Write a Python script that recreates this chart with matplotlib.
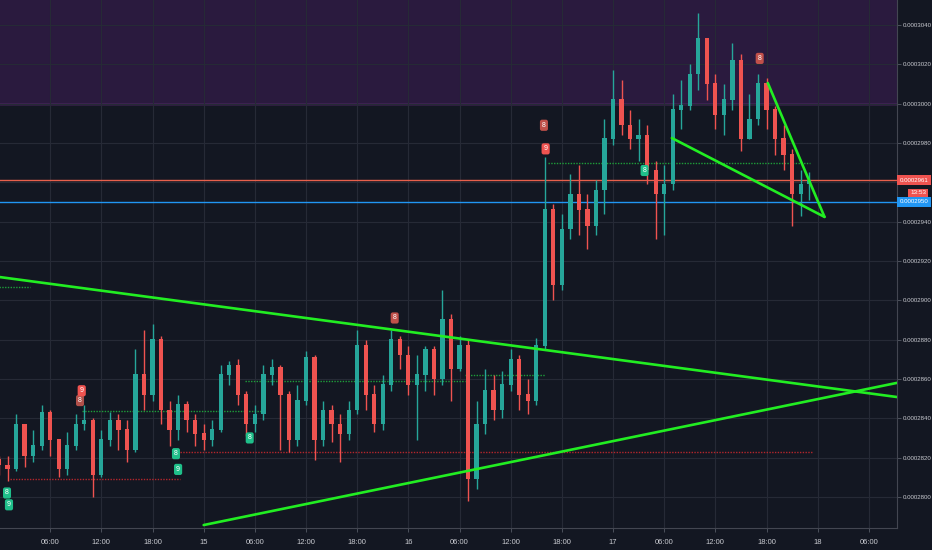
import matplotlib
matplotlib.use("Agg")
import matplotlib.pyplot as plt
import numpy as np

# prices in units of 1e-7, hourly candles starting 14th 00:00
first_open = 2819
close = [2816, 2814, 2837, 2821, 2826, 2843, 2829, 2814, 2826, 2837, 2839, 2811,
         2829, 2839, 2834, 2824, 2862, 2852, 2880, 2844, 2834, 2847, 2839, 2832,
         2829, 2834, 2862, 2867, 2852, 2837, 2842, 2862, 2866, 2852, 2829, 2849,
         2871, 2829, 2844, 2837, 2832, 2844, 2877, 2852, 2837, 2857, 2880, 2872,
         2857, 2862, 2875, 2860, 2890, 2865, 2877, 2809, 2837, 2854, 2844, 2857,
         2870, 2852, 2849, 2877, 2946, 2908, 2936, 2954, 2946, 2938, 2956, 2982,
         3002, 2989, 2982, 2984, 2966, 2954, 2959, 2997, 2999, 3015, 3033, 3010,
         2994, 3002, 3022, 2982, 2992, 3010, 2997, 2982, 2974, 2954, 2959, 2961]
high = [2821, 2821, 2842, 2832, 2834, 2847, 2844, 2829, 2833, 2842, 2847, 2840,
        2834, 2843, 2842, 2839, 2875, 2885, 2888, 2882, 2849, 2852, 2849, 2842,
        2837, 2839, 2867, 2869, 2870, 2854, 2847, 2867, 2870, 2867, 2854, 2857,
        2874, 2872, 2849, 2847, 2842, 2849, 2885, 2880, 2857, 2862, 2885, 2882,
        2877, 2872, 2877, 2877, 2905, 2893, 2882, 2880, 2849, 2865, 2862, 2864,
        2875, 2872, 2860, 2881, 2973, 2949, 2944, 2964, 2969, 2954, 2961, 2992,
        3017, 3012, 2997, 2992, 2989, 2971, 2969, 3005, 3012, 3020, 3046, 3033,
        3015, 3010, 3031, 3025, 3005, 3015, 3013, 2999, 2989, 2977, 2966, 2965]
low = [2811, 2808, 2813, 2815, 2818, 2824, 2821, 2810, 2811, 2824, 2834, 2800,
       2810, 2826, 2824, 2818, 2823, 2844, 2849, 2837, 2826, 2829, 2833, 2826,
       2824, 2826, 2833, 2857, 2847, 2831, 2833, 2839, 2857, 2824, 2823, 2826,
       2847, 2819, 2826, 2828, 2818, 2829, 2842, 2844, 2833, 2834, 2854, 2865,
       2852, 2829, 2854, 2852, 2857, 2849, 2864, 2798, 2804, 2832, 2839, 2840,
       2854, 2844, 2842, 2847, 2875, 2900, 2905, 2931, 2933, 2926, 2933, 2944,
       2979, 2984, 2977, 2971, 2959, 2931, 2933, 2956, 2987, 2997, 3007, 3002,
       2987, 2984, 2997, 2976, 2982, 2989, 2987, 2974, 2966, 2938, 2943, 2951]

# TD sequential boxes: (hour, price, label, colour)
td_marks = [(0.94, 2802, "8", "#1fbf8a"), (1.17, 2796, "9", "#1fbf8a"),
            (9.5, 2849, "8", "#b0504a"), (9.7, 2854, "9", "#ef5350"),
            (20.75, 2822, "8", "#1fbf8a"), (21.0, 2814, "9", "#1fbf8a"),
            (29.4, 2830, "8", "#1fbf8a"), (46.4, 2891, "8", "#c0504a"),
            (63.9, 2989, "8", "#c0504a"), (64.1, 2977, "9", "#ef5350"),
            (75.7, 2966, "8", "#1fbf8a"), (89.2, 3023, "8", "#c0504a")]

# trend lines (hour, price) pairs
trend_lines = [((0.1, 2911.8), (105.3, 2850.8)),
               ((24.0, 2785.7), (105.3, 2858.0)),
               ((78.9, 2982.5), (96.8, 2942.4)),
               ((90.15, 3010.5), (96.8, 2942.4))]

# dotted support / resistance: (price, start hour, end hour, colour)
dotted = [(2907, 0.0, 3.6, "#1e9e3a"), (2843.5, 9.7, 31.2, "#1e9e3a"),
          (2859, 28.8, 54.6, "#1e9e3a"), (2862, 54.6, 64.0, "#1e9e3a"),
          (2970, 64.4, 95.1, "#1e9e3a"), (2809, 1.3, 21.2, "#b3262c"),
          (2823, 21.2, 95.3, "#b3262c")]

last_price = 2961
bid_price = 2950
countdown = "13:53"

tick_hours = [6, 12, 18, 24, 30, 36, 42, 48, 54, 60, 66, 72, 78, 84, 90, 96, 102]
tick_names = ["06:00", "12:00", "18:00", "15", "06:00", "12:00", "18:00", "16",
              "06:00", "12:00", "18:00", "17", "06:00", "12:00", "18:00", "18", "06:00"]
price_ticks = list(range(2800, 3041, 20))

scale = 1e-7
bg = "#131722"
up_col, dn_col = "#26a69a", "#ef5350"

plt.rcParams['font.family'] = ['Liberation Sans', 'DejaVu Sans']
fig = plt.figure(figsize=(9.32, 5.5), dpi=100, facecolor=bg)
ax = fig.add_axes([0, 0.04, 897 / 932, 0.96])
ax.set_facecolor(bg)

n = len(close)
t = np.arange(n)
c = np.array(close) * scale
o = np.array([first_open] + close[:-1]) * scale
h = np.array(high) * scale
l = np.array(low) * scale
colors = [up_col if cc >= oo else dn_col for cc, oo in zip(c, o)]

# overbought zone
ax.axhspan(3000 * scale, 3100 * scale, color="#2a1a3e", zorder=0)
ax.axhline(3000 * scale, color="#8e3fa8", lw=1, zorder=1)

ax.vlines(t, l, h, colors=colors, lw=1, zorder=3)
ax.bar(t, np.abs(c - o) + 0.3 * scale, bottom=np.minimum(c, o), width=0.5,
       color=colors, zorder=4)

for y, a, b, col in dotted:
    ax.plot([a, b], [y * scale, y * scale], color=col, lw=1, ls=(0, (1, 1)), zorder=2)

for (x0, y0), (x1, y1) in trend_lines:
    ax.plot([x0, x1], [y0 * scale, y1 * scale], color="#22ee22", lw=1.9, zorder=5,
            solid_capstyle="round")

for x, y, s, col in td_marks:
    ax.text(x, y * scale, s, color="white", fontsize=5, ha="center", va="center",
            zorder=6, bbox=dict(boxstyle="round,pad=0.3", fc=col, ec="none"))

ax.axhline(last_price * scale, color="#e8604c", lw=1, zorder=2)
ax.axhline(bid_price * scale, color="#2196f3", lw=1, zorder=2)

ax.set_xlim(0.117, 105.3)
ax.set_ylim(2784.2 * scale, 3052.7 * scale)

ax.set_xticks(tick_hours)
ax.set_xticklabels(tick_names)
ax.set_yticks([p * scale for p in price_ticks])
ax.set_yticklabels(["" if p == 2960 else "0.000%d" % p for p in price_ticks])
ax.yaxis.tick_right()
ax.grid(True, color="#262a36", lw=0.8, zorder=0)
ax.tick_params(axis="both", colors="#555a66", labelcolor="#c8cad0", length=3, width=0.6)
ax.tick_params(axis="y", pad=1.2, labelsize=4.4)
ax.tick_params(axis="x", pad=5, labelsize=5.5)
for side in ["top", "left"]:
    ax.spines[side].set_visible(False)
for side in ["right", "bottom"]:
    ax.spines[side].set_color("#434651")

# price tags on the right axis
def tag(price, text, col):
    ax.text(1.0 + 0.003, price * scale, text, transform=ax.get_yaxis_transform(),
            color="white", fontsize=4.4, va="center", ha="left", zorder=7, clip_on=False,
            bbox=dict(boxstyle="square,pad=0.4", fc=col, ec="none"))

tag(last_price, "0.000%d" % last_price, "#ef5350")
tag(bid_price, "0.000%d" % bid_price, "#2196f3")
fig.text(0.994, 1 - 193 / 550, countdown, color="white", fontsize=4.6, va="center",
         ha="right", zorder=7,
         bbox=dict(boxstyle="square,pad=0.3", fc="#ef5350", ec="none"))

fig.savefig("out.png", dpi=100, facecolor=bg)
